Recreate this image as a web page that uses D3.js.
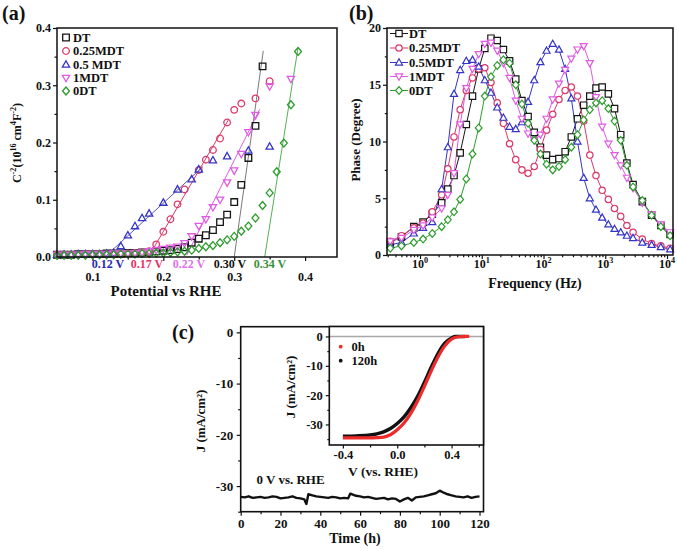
<!DOCTYPE html>
<html><head><meta charset="utf-8">
<script src="https://cdn.jsdelivr.net/npm/d3@7"></script>
<style>
body{margin:0;background:#fff}
text{font-family:"Liberation Serif","Times New Roman",serif;font-weight:bold;fill:#111}
</style>
</head><body><svg id="c" width="677" height="550"></svg>
<script>
// ---------------- DATA ----------------
// Panel (a) Mott-Schottky
const aSeries = ["DT","0.25MDT","0.5 MDT","1MDT","0DT"];
const aDT_x = [0.05,0.06,0.07,0.08,0.09,0.10,0.11,0.12,0.13,0.14,0.15,0.16,0.17,0.18,0.19,0.20,0.21,0.22,0.23,0.24,0.25,0.26,0.27,0.28,0.29,0.30,0.31,0.32,0.33,0.34];
const aDT_y = [0.004,0.004,0.004,0.005,0.005,0.005,0.005,0.006,0.006,0.006,0.007,0.007,0.008,0.009,0.010,0.011,0.012,0.014,0.017,0.025,0.032,0.038,0.047,0.061,0.074,0.096,0.126,0.173,0.229,0.333];
const a25_x = [0.05,0.06,0.07,0.08,0.09,0.10,0.11,0.12,0.13,0.14,0.15,0.16,0.17,0.18,0.19,0.20,0.21,0.22,0.23,0.25,0.26,0.27,0.28,0.29,0.30,0.31,0.33,0.35];
const a25_y = [0.004,0.004,0.004,0.004,0.005,0.005,0.005,0.005,0.006,0.006,0.006,0.007,0.008,0.010,0.022,0.044,0.066,0.092,0.118,0.152,0.170,0.187,0.207,0.235,0.257,0.268,0.277,0.307];
const a05_x = [0.05,0.06,0.07,0.08,0.09,0.10,0.11,0.12,0.13,0.14,0.15,0.16,0.17,0.18,0.20,0.22,0.24,0.25,0.27,0.29,0.32,0.35];
const a05_y = [0.004,0.004,0.004,0.005,0.005,0.005,0.005,0.006,0.007,0.019,0.038,0.054,0.068,0.076,0.095,0.118,0.136,0.153,0.169,0.176,0.186,0.193];
const a1_x = [0.05,0.06,0.07,0.08,0.09,0.10,0.11,0.12,0.13,0.14,0.15,0.16,0.17,0.18,0.19,0.20,0.21,0.22,0.23,0.24,0.25,0.26,0.27,0.28,0.29,0.30,0.31,0.32,0.33,0.35,0.38];
const a1_y = [0.004,0.004,0.004,0.004,0.005,0.005,0.005,0.005,0.006,0.006,0.006,0.007,0.008,0.010,0.012,0.014,0.016,0.018,0.024,0.036,0.054,0.066,0.087,0.100,0.130,0.151,0.180,0.218,0.248,0.298,0.311];
const a0_x = [0.05,0.06,0.07,0.08,0.09,0.10,0.11,0.12,0.13,0.14,0.15,0.16,0.17,0.18,0.19,0.20,0.21,0.22,0.23,0.24,0.25,0.26,0.27,0.28,0.29,0.30,0.31,0.32,0.33,0.34,0.35,0.36,0.37,0.38,0.39];
const a0_y = [0.003,0.003,0.003,0.003,0.003,0.004,0.004,0.004,0.004,0.005,0.005,0.005,0.006,0.006,0.007,0.007,0.008,0.009,0.010,0.012,0.015,0.018,0.020,0.025,0.030,0.036,0.045,0.054,0.068,0.090,0.112,0.149,0.199,0.266,0.359];
// linear fits (start/end points)
const aFitDT = [[0.300,0],[0.341,0.36]];
const aFit25 = [[0.179,0],[0.292,0.240]];
const aFit05 = [[0.120,0.003],[0.256,0.158]];
const aFit1  = [[0.233,0.003],[0.336,0.258]];
const aFit0  = [[0.343,0],[0.390,0.365]];
const aIntercepts = ["0.12 V","0.17 V","0.22 V","0.30 V","0.34 V"];
const aXTicks = [0.1,0.2,0.3,0.4];
const aYTicks = [0,0.1,0.2,0.3,0.4];

// Panel (b) Bode phase
const bSeries = ["DT","0.25MDT","0.5MDT","1MDT","0DT"];
const bFreq = [0.33,0.501,0.794,1.12,1.58,2.24,2.82,3.55,4.47,5.62,7.08,8.91,11.2,14.1,17.8,22.4,28.2,35.5,44.7,56.2,70.8,89.1,112,141,178,224,282,355,447,562,708,891,1122,1413,1778,2239,2818,3981,5623,7943,11220];
const bDT  = [1.1,1.6,2.5,2.9,3.6,4.6,5.8,7.0,9.0,11.5,14.0,16.4,18.2,19.1,18.9,18.1,17.1,15.5,13.6,12.2,10.8,9.5,8.8,8.4,8.5,9.1,10.4,12.0,13.2,14.0,14.7,14.8,14.2,12.9,10.6,8.1,6.2,4.7,3.5,2.6,1.8];
const b25  = [1.2,1.7,2.4,2.8,3.8,5.3,7.6,10.4,12.8,14.5,15.6,16.4,16.5,15.2,13.4,11.6,9.8,8.4,7.5,7.2,7.8,9.3,11.0,12.4,13.7,14.5,14.8,14.0,11.8,8.8,7.0,5.7,4.9,4.1,3.4,2.6,2.0,1.4,1.0,0.8,0.6];
const b05  = [0.9,1.1,1.9,2.4,2.9,5.8,9.5,14.2,16.3,17.1,17.2,16.6,15.4,14.3,13.0,12.1,11.3,11.1,11.7,13.5,15.4,17.0,18.0,18.6,18.1,16.4,13.8,10.0,6.8,5.0,4.0,3.3,2.7,2.3,2.0,1.7,1.5,1.1,0.9,0.7,0.5];
const b1   = [1.2,1.5,2.2,2.6,3.3,4.1,5.3,7.2,11.5,14.7,16.4,17.7,18.6,18.7,18.0,16.9,15.6,13.6,12.0,10.7,10.1,10.6,12.0,13.7,15.1,16.3,17.3,18.1,18.4,16.9,13.9,11.3,9.8,8.8,7.9,6.8,5.9,4.6,3.6,2.7,2.0];
const b0   = [0.6,0.8,1.1,1.4,1.9,2.5,3.1,3.8,4.9,6.7,8.9,11.2,14.0,15.7,16.7,17.2,16.9,15.0,13.3,11.6,10.1,8.9,8.0,7.5,7.8,8.4,9.5,10.6,11.9,12.8,13.4,13.6,12.9,11.8,10.1,7.9,6.0,4.8,3.5,2.5,1.7];
const bXTicks = [1,10,100,1000,10000];
const bYTicks = [0,5,10,15,20];

// Panel (c) stability
const cTime = [0,2,4,6,8,10,12,14,16,18,20,22,24,26,28,30,32,33,34,36,38,40,42,44,46,48,50,52,54,55,56,58,60,62,64,66,68,70,72,74,76,78,80,82,84,86,88,90,92,94,96,98,100,102,104,106,108,110,112,114,116,118,120];
const cJ = [-32.1,-32.2,-32.0,-32.3,-32.2,-32.1,-32.3,-32.2,-32.0,-32.1,-32.4,-32.3,-32.2,-32.0,-32.3,-32.4,-32.6,-33.5,-31.6,-31.8,-32.0,-32.1,-32.2,-32.3,-32.1,-32.2,-32.4,-32.3,-32.4,-31.5,-31.6,-31.9,-32.0,-32.2,-32.1,-32.3,-32.5,-32.4,-32.3,-32.6,-32.4,-32.5,-33.0,-32.6,-32.3,-32.8,-32.2,-32.1,-32.0,-31.8,-31.6,-31.4,-30.9,-31.3,-31.6,-31.8,-32.0,-32.1,-32.2,-32.0,-32.3,-32.1,-32.0];
const cXTicks = [0,20,40,60,80,100,120];
const cYTicks = [0,-10,-20,-30];
// inset LSV
const iV0 = [-0.40,-0.30,-0.20,-0.15,-0.10,-0.05,0.00,0.05,0.10,0.15,0.20,0.25,0.30,0.35,0.40,0.45,0.50,0.53];
const iJ0 = [-34.6,-34.6,-34.6,-34.5,-34.3,-33.5,-31.8,-29.5,-26.2,-22.0,-17.0,-11.8,-7.0,-3.2,-0.9,-0.1,0.0,0.0];
const iV120 = [-0.40,-0.30,-0.20,-0.15,-0.10,-0.05,0.00,0.05,0.10,0.15,0.20,0.25,0.30,0.35,0.40,0.43,0.50];
const iJ120 = [-34.0,-33.9,-33.6,-33.2,-32.5,-31.4,-29.7,-27.4,-24.3,-20.4,-15.6,-10.5,-5.8,-2.3,-0.5,0.0,0.0];
const iXTicks = [-0.4,0.0,0.4];
const iYTicks = [0,-10,-20,-30];

// ---------------- DRAW ----------------
const svg = d3.select('#c');
const COL = {DT:'#161616', c25:'#dc3868', c05:'#3434c6', c1:'#e05ae4', c0:'#2c9c2c'};
const cols = [COL.DT, COL.c25, COL.c05, COL.c1, COL.c0];
const syms = ['square','circle','up','down','diamond'];

function symPath(type, s){
  const h = s/2;
  switch(type){
    case 'square': return `M${-h},${-h}H${h}V${h}H${-h}Z`;
    case 'circle': return `M${h},0A${h},${h} 0 1,1 ${-h},0A${h},${h} 0 1,1 ${h},0Z`;
    case 'up': return `M0,${-h*1.15}L${h*1.1},${h*0.8}L${-h*1.1},${h*0.8}Z`;
    case 'down': return `M0,${h*1.15}L${h*1.1},${-h*0.8}L${-h*1.1},${-h*0.8}Z`;
    case 'diamond': return `M0,${-h*1.2}L${h*1.05},0L0,${h*1.2}L${-h*1.05},0Z`;
  }
}
function styleAxis(g, fs){
  g.select('.domain').remove();
  g.selectAll('line').attr('stroke','#111').attr('stroke-width',1.2);
  g.selectAll('text').attr('font-size',fs).attr('font-family','"Liberation Serif","Times New Roman",serif').attr('font-weight','bold').attr('fill','#111');
}
function rich(t, parts, fs){
  let up = false;
  parts.forEach(([s,sup])=>{
    const sp = t.append('tspan').text(s).attr('font-size', sup? fs*0.68 : fs);
    if(sup && !up){ sp.attr('dy', -fs*0.38); up = true; }
    else if(!sup && up){ sp.attr('dy', fs*0.38); up = false; }
  });
}
const fmtPlain = d => String(d);

// ===== Panel (a) =====
{
  const g = svg.append('g');
  const x = d3.scaleLinear([0.05,0.445],[57,337]);
  const y = d3.scaleLinear([0,0.4],[257,28]);
  const minorX = d3.range(0.05,0.45,0.05).map(v=>+v.toFixed(2)).filter(v=>!aXTicks.some(t=>Math.abs(t-v)<1e-6));
  const minorY = [0.05,0.15,0.25,0.35];
  g.append('g').attr('transform','translate(0,257)').call(d3.axisBottom(x).tickValues(aXTicks).tickSize(4).tickPadding(11).tickFormat(d=>d.toFixed(1))).call(a=>styleAxis(a,12));
  g.append('g').attr('transform','translate(0,257)').call(d3.axisBottom(x).tickValues(minorX).tickSize(2.5).tickFormat('')).call(a=>styleAxis(a,12));
  g.append('g').attr('transform','translate(57,0)').call(d3.axisLeft(y).tickValues(aYTicks).tickSize(4).tickPadding(2).tickFormat(d=>d.toFixed(1))).call(a=>styleAxis(a,12));
  g.append('g').attr('transform','translate(57,0)').call(d3.axisLeft(y).tickValues(minorY).tickSize(2.5).tickFormat('')).call(a=>styleAxis(a,12));

  const sets = [[aDT_x,aDT_y],[a25_x,a25_y],[a05_x,a05_y],[a1_x,a1_y],[a0_x,a0_y]];
  const fits = [aFitDT,aFit25,aFit05,aFit1,aFit0];
  const fitCols = ['#7a7a7a',COL.c25,'#5a5ab8',COL.c1,'#55b055'];
  const line = d3.line().x(d=>x(d[0])).y(d=>y(d[1]));
  fits.forEach((f,i)=>g.append('path').attr('d',line(f)).attr('stroke',fitCols[i]).attr('stroke-width',1).attr('fill','none'));
  sets.forEach(([xs,ys],i)=>{
    g.append('g').selectAll('path').data(xs.map((v,k)=>[v,ys[k]])).join('path')
      .attr('d',symPath(syms[i],6.6)).attr('transform',d=>`translate(${x(d[0])},${y(d[1])})`)
      .attr('fill','none').attr('stroke',cols[i]).attr('stroke-width',1.3);
  });
  g.append('rect').attr('x',57).attr('y',28).attr('width',280).attr('height',229).attr('fill','none').attr('stroke','#111').attr('stroke-width',1.5);

  // intercept labels
  const icol = ['#2a2ab0','#e8306a','#e070ea','#111','#3a8f3a'];
  const ix = [108,147,189,230,270];
  aIntercepts.forEach((s,i)=>g.append('text').attr('x',ix[i]).attr('y',267.5).attr('text-anchor','middle').attr('font-size',12).style('fill',icol[i]).text(s));
  // legend
  const ly = [37.5,51,64.5,78,91];
  aSeries.forEach((s,i)=>{
    g.append('path').attr('d',symPath(syms[i],6.6)).attr('transform',`translate(66,${ly[i]})`).attr('fill','none').attr('stroke',cols[i]).attr('stroke-width',1.3);
    g.append('text').attr('x',73).attr('y',ly[i]+4.3).attr('font-size',12.5).text(s);
  });
  g.append('text').attr('x',166).attr('y',296).attr('text-anchor','middle').attr('font-size',15).text('Potential vs RHE');
  const yt = g.append('text').attr('transform','translate(21,143) rotate(-90)').attr('text-anchor','middle');
  rich(yt, [['C',0],['-2',1],['(10',0],['16',1],[' cm',0],['4',1],['F',0],['-2',1],[')',0]], 12);
  g.append('text').attr('x',2).attr('y',20).attr('font-size',20).text('(a)');
}

// ===== Panel (b) =====
{
  const g = svg.append('g');
  const x = d3.scaleLog([0.292,12500],[387,673]);
  const y = d3.scaleLinear([0,20],[255,28]);
  const minorX = [];
  [0.1,1,10,100,1000,10000].forEach(dec=>{for(let k=2;k<=9;k++){const v=dec*k; if(v>0.292&&v<12500) minorX.push(v);}});
  g.append('g').attr('transform','translate(0,255)').call(d3.axisBottom(x).tickValues(bXTicks).tickSize(4).tickFormat('')).call(a=>styleAxis(a,12));
  g.append('g').attr('transform','translate(0,255)').call(d3.axisBottom(x).tickValues(minorX).tickSize(2.2).tickFormat('')).call(a=>styleAxis(a,12));
  g.append('g').attr('transform','translate(387,0)').call(d3.axisLeft(y).tickValues(bYTicks).tickSize(4).tickPadding(2).tickFormat(fmtPlain)).call(a=>styleAxis(a,12));
  g.append('g').attr('transform','translate(387,0)').call(d3.axisLeft(y).tickValues([2.5,7.5,12.5,17.5]).tickSize(2.2).tickFormat('')).call(a=>styleAxis(a,12));
  bXTicks.forEach(v=>{
    const t = g.append('text').attr('x',x(v)).attr('y',268).attr('text-anchor','middle');
    rich(t, [['10',0],[String(Math.round(Math.log10(v))),1]], 12);
  });
  const vals = [bDT,b25,b05,b1,b0];
  const line = d3.line().x(d=>x(d[0])).y(d=>y(d[1]));
  vals.forEach((vs,i)=>{
    const pts = bFreq.map((f,k)=>[f,vs[k]]);
    g.append('path').attr('d',line(pts)).attr('stroke',cols[i]).attr('stroke-width',1).attr('fill','none');
  });
  vals.forEach((vs,i)=>{
    const pts = bFreq.map((f,k)=>[f,vs[k]]);
    g.append('g').selectAll('path').data(pts).join('path')
      .attr('d',symPath(syms[i],6.4)).attr('transform',d=>`translate(${x(d[0])},${y(d[1])})`)
      .attr('fill','#fff').attr('stroke',cols[i]).attr('stroke-width',1.2);
  });
  g.append('rect').attr('x',387).attr('y',28).attr('width',286).attr('height',227).attr('fill','none').attr('stroke','#111').attr('stroke-width',1.5);
  const ly = [33.5,48,62.5,76.5,90.5];
  bSeries.forEach((s,i)=>{
    g.append('line').attr('x1',390).attr('x2',408).attr('y1',ly[i]).attr('y2',ly[i]).attr('stroke',cols[i]).attr('stroke-width',1);
    g.append('path').attr('d',symPath(syms[i],6.4)).attr('transform',`translate(399,${ly[i]})`).attr('fill','#fff').attr('stroke',cols[i]).attr('stroke-width',1.2);
    g.append('text').attr('x',409).attr('y',ly[i]+4.3).attr('font-size',12.5).text(s);
  });
  g.append('text').attr('x',535).attr('y',288).attr('text-anchor','middle').attr('font-size',14).text('Frequency (Hz)');
  g.append('text').attr('transform','translate(360,140) rotate(-90)').attr('text-anchor','middle').attr('font-size',13).text('Phase (Degree)');
  g.append('text').attr('x',349).attr('y',20).attr('font-size',20).text('(b)');
}

// ===== Panel (c) =====
{
  const g = svg.append('g');
  const x = d3.scaleLinear([0,122],[240.7,483.5]);
  const y = d3.scaleLinear([-35,1.1],[511.7,326.7]);
  g.append('g').attr('transform','translate(0,511.7)').call(d3.axisBottom(x).tickValues(cXTicks).tickSize(4).tickPadding(3).tickFormat(fmtPlain)).call(a=>styleAxis(a,13));
  g.append('g').attr('transform','translate(0,511.7)').call(d3.axisBottom(x).tickValues([10,30,50,70,90,110]).tickSize(2.5).tickFormat('')).call(a=>styleAxis(a,13));
  g.append('g').attr('transform','translate(240.7,0)').call(d3.axisLeft(y).tickValues(cYTicks).tickSize(4).tickPadding(3.5).tickFormat(fmtPlain)).call(a=>styleAxis(a,13));
  g.append('g').attr('transform','translate(240.7,0)').call(d3.axisLeft(y).tickValues([-5,-15,-25,-35]).tickSize(2.5).tickFormat('')).call(a=>styleAxis(a,13));
  const line = d3.line().x(d=>x(d[0])).y(d=>y(d[1]));
  g.append('path').attr('d',line(cTime.map((t,k)=>[t,cJ[k]]))).attr('stroke','#111').attr('stroke-width',2.4).attr('fill','none').attr('stroke-linejoin','round');
  g.append('rect').attr('x',240.7).attr('y',326.7).attr('width',242.8).attr('height',185).attr('fill','none').attr('stroke','#111').attr('stroke-width',1.6);
  g.append('text').attr('x',256.5).attr('y',483.5).attr('font-size',13).text('0 V vs. RHE');
  g.append('text').attr('x',355).attr('y',543).attr('text-anchor','middle').attr('font-size',14).text('Time (h)');
  g.append('text').attr('transform','translate(205,421) rotate(-90)').attr('text-anchor','middle').attr('font-size',13).text('J (mA/cm²)');
  g.append('text').attr('x',172).attr('y',339).attr('font-size',20).text('(c)');

  // inset
  const ix = d3.scaleLinear([-0.5,0.635],[329.3,483.5]);
  const iy = d3.scaleLinear([-37,3.4],[445,326.5]);
  g.append('rect').attr('x',329.3).attr('y',326.5).attr('width',154.2).attr('height',118.5).attr('fill','#fff');
  g.append('g').attr('transform','translate(0,445)').call(d3.axisBottom(ix).tickValues(iXTicks).tickSize(3.5).tickPadding(2).tickFormat(d=>d.toFixed(1))).call(a=>styleAxis(a,12.5));
  g.append('g').attr('transform','translate(0,445)').call(d3.axisBottom(ix).tickValues([-0.2,0.2,0.6]).tickSize(2.5).tickFormat('')).call(a=>styleAxis(a,12.5));
  g.append('g').attr('transform','translate(329.3,0)').call(d3.axisLeft(iy).tickValues(iYTicks).tickSize(3.5).tickPadding(3).tickFormat(fmtPlain)).call(a=>styleAxis(a,12.5));
  g.append('g').attr('transform','translate(329.3,0)').call(d3.axisLeft(iy).tickValues([-5,-15,-25,-35]).tickSize(2).tickFormat('')).call(a=>styleAxis(a,12.5));
  g.append('line').attr('x1',329.3).attr('x2',483.5).attr('y1',iy(0)).attr('y2',iy(0)).attr('stroke','#a8a8a8').attr('stroke-width',1.4);
  const il = d3.line().x(d=>ix(d[0])).y(d=>iy(d[1])).curve(d3.curveMonotoneX);
  g.append('path').attr('d',il(iV120.map((v,k)=>[v,iJ120[k]]))).attr('stroke','#111').attr('stroke-width',3.4).attr('fill','none');
  g.append('path').attr('d',il(iV0.map((v,k)=>[v,iJ0[k]]))).attr('stroke','#ee2b2b').attr('stroke-width',3.2).attr('fill','none');
  g.append('rect').attr('x',329.3).attr('y',326.5).attr('width',154.2).attr('height',118.5).attr('fill','none').attr('stroke','#111').attr('stroke-width',1.6);
  g.append('circle').attr('cx',340.7).attr('cy',346.7).attr('r',1.9).attr('fill','#ee2b2b');
  g.append('text').attr('x',351.5).attr('y',351).attr('font-size',12.5).text('0h');
  g.append('circle').attr('cx',340.7).attr('cy',360.7).attr('r',1.9).attr('fill','#111');
  g.append('text').attr('x',351.5).attr('y',365).attr('font-size',12.5).text('120h');
  g.append('text').attr('x',383).attr('y',476).attr('text-anchor','middle').attr('font-size',13.5).text('V (vs. RHE)');
  g.append('text').attr('transform','translate(295,387) rotate(-90)').attr('text-anchor','middle').attr('font-size',13).text('J (mA/cm²)');
}
</script></body></html>
